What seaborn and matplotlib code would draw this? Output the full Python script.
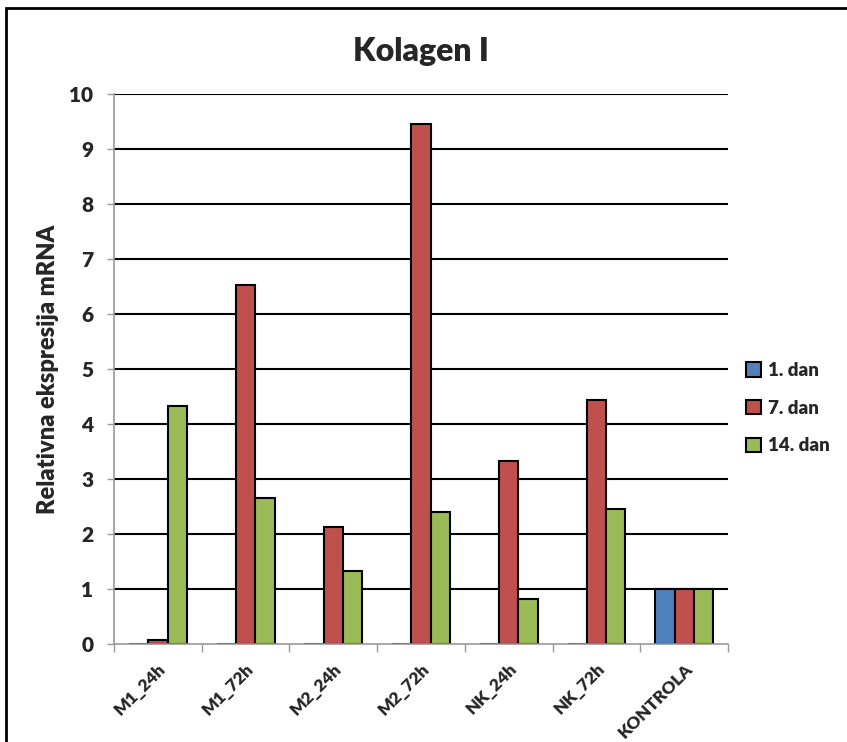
import pandas as pd
import seaborn as sns
import matplotlib.pyplot as plt
from matplotlib.patches import Rectangle

# podaci
kategorije = ['M1_24h', 'M1_72h', 'M2_24h', 'M2_72h', 'NK_24h', 'NK_72h', 'KONTROLA']
dan1 = [0.01, 0.01, 0.01, 0.01, 0.01, 0.01, 1.0]
dan7 = [0.08, 6.52, 2.12, 9.45, 3.33, 4.44, 1.0]
dan14 = [4.33, 2.66, 1.33, 2.40, 0.82, 2.45, 1.0]
serije = ['1. dan', '7. dan', '14. dan']
boje = ['#4F81BD', '#C0504D', '#9BBB59']

data = pd.DataFrame({
    'kategorija': kategorije * 3,
    'vrijednost': dan1 + dan7 + dan14,
    'serija': [s for s in serije for _ in kategorije],
})

sns.set_style('white')
plt.rcParams['font.family'] = ['Lato', 'DejaVu Sans']
plt.rcParams['font.weight'] = 'heavy'

fig = plt.figure(figsize=(8.47, 7.42), dpi=100)
ax = fig.add_axes([0.1346, 0.132, 0.725, 0.7413])

sns.barplot(data=data, x='kategorija', y='vrijednost', hue='serija',
            palette=boje, width=0.66, edgecolor='black', linewidth=1.5,
            saturation=1, ax=ax)

ax.set_ylim(0, 10)
ax.set_xlim(-0.5, 6.5)
ax.set_yticks(range(0, 11))
for y in range(1, 11):
    ax.axhline(y, color='black', linewidth=1.5, zorder=0)

ax.set_xlabel('')
ax.set_ylabel('Relativna ekspresija mRNA', fontsize=17, fontweight='heavy', labelpad=7)
ax.set_title('Kolagen I', fontsize=23, fontweight='heavy', pad=24)

for s in ['top', 'right']:
    ax.spines[s].set_visible(False)
for s in ['left', 'bottom']:
    ax.spines[s].set_color('#999999')
    ax.spines[s].set_linewidth(1.2)

ax.tick_params(axis='y', labelsize=15, length=5, color='#999999', width=1, left=True, pad=10)
ax.set_xticks(range(7))
ax.set_xticklabels(kategorije, rotation=45, ha='right', rotation_mode='anchor',
                   fontsize=12.5, fontweight='heavy')
ax.tick_params(axis='x', which='major', length=0, pad=12)
ax.set_xticks([i - 0.5 for i in range(8)], minor=True)
ax.tick_params(axis='x', which='minor', length=6, color='#999999', width=1, bottom=True)
for t in ax.get_yticklabels():
    t.set_fontweight('heavy')

handles, labels = ax.get_legend_handles_labels()
ax.legend(handles, labels, loc='center left', bbox_to_anchor=(0.881, 0.45),
          bbox_transform=fig.transFigure, frameon=False,
          prop={'size': 13.5, 'weight': 'heavy'}, borderpad=0, borderaxespad=0,
          handlelength=0.8, handleheight=0.8, handletextpad=0.35, labelspacing=1.1)

# okvir oko grafikona
fig.patches.append(Rectangle((6 / 847, -0.1), 1, 1.1 - 8 / 742, transform=fig.transFigure,
                             fill=False, edgecolor='black', linewidth=2))

plt.savefig('out.png', dpi=100)
